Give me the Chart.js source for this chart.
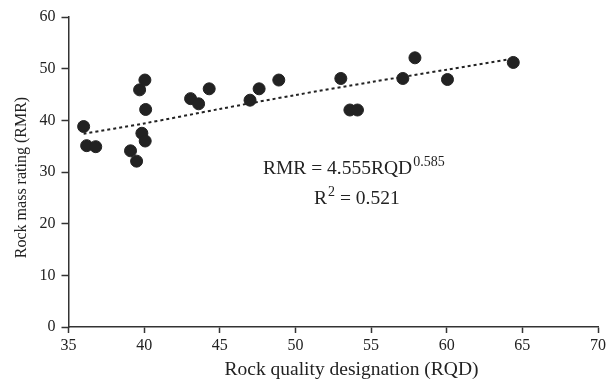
<!DOCTYPE html>
<html>
<head>
<meta charset="utf-8">
<script src="https://cdn.jsdelivr.net/npm/chart.js@4.4.0/dist/chart.umd.min.js"></script>
<style>
  html, body { margin: 0; padding: 0; background: #fff; }
  #wrap { width: 609px; height: 383px; position: relative; }
</style>
</head>
<body>
<div id="wrap"><canvas id="c"></canvas></div>
<script>
// measured RQD / RMR pairs
const rqd = [36.0, 36.2, 36.8, 39.1, 39.5, 39.7, 40.05, 40.1, 39.85, 40.07,
  43.07, 43.6, 44.3, 47.0, 47.6, 48.9, 53.0, 53.6, 54.1, 57.1, 57.9, 60.05, 64.4];
const rmr = [38.8, 35.1, 34.9, 34.1, 32.1, 45.9, 47.8, 42.1, 37.5, 36.0,
  44.2, 43.2, 46.1, 43.9, 46.1, 47.8, 48.1, 42.0, 42.0, 48.1, 52.1, 47.9, 51.2];

// fitted curve
const trendX = [36, 40, 45, 50, 55, 60, 64.3];
const trendY = [37.4, 39.4, 42.2, 44.9, 47.4, 49.8, 51.9];

const xTicks = [35, 40, 45, 50, 55, 60, 65, 70];
const yTicks = [0, 10, 20, 30, 40, 50, 60];

const xTitle = 'Rock quality designation (RQD)';
const yTitle = 'Rock mass rating (RMR)';

const FONT = "'Liberation Serif', 'Times New Roman', serif";
const AXIS = '#333';
const INK = '#222';

// axis titles sit a little off-centre in the original, so draw them by hand
const textLayer = {
  id: 'textLayer',
  afterDraw(chart) {
    const ctx = chart.ctx;
    ctx.save();
    ctx.fillStyle = INK;
    ctx.textBaseline = 'alphabetic';

    ctx.textAlign = 'center';
    ctx.font = `19.5px ${FONT}`;
    ctx.fillText(xTitle, 351.5, 375);

    ctx.save();
    ctx.translate(26, 177.5);
    ctx.rotate(-Math.PI / 2);
    ctx.font = `16px ${FONT}`;
    ctx.fillText(yTitle, 0, 0);
    ctx.restore();

    ctx.textAlign = 'left';
    ctx.font = `19.5px ${FONT}`;
    let x = 263;
    ctx.fillText('RMR = 4.555RQD', x, 174);
    x += ctx.measureText('RMR = 4.555RQD').width + 1;
    ctx.font = `14px ${FONT}`;
    ctx.fillText('0.585', x, 166);

    ctx.font = `19.5px ${FONT}`;
    x = 314;
    ctx.fillText('R', x, 204);
    x += ctx.measureText('R').width + 1;
    ctx.font = `14px ${FONT}`;
    ctx.fillText('2', x, 196);
    x += ctx.measureText('2').width;
    ctx.font = `19.5px ${FONT}`;
    ctx.fillText(' = 0.521', x, 204);
    ctx.restore();
  },
};

new Chart(document.getElementById('c'), {
  type: 'scatter',
  data: {
    datasets: [
      {
        label: 'data',
        data: rqd.map((x, i) => ({ x, y: rmr[i] })),
        backgroundColor: INK,
        borderColor: INK,
        pointRadius: 6,
        pointHoverRadius: 6,
        order: 0,
      },
      {
        label: 'fit',
        type: 'line',
        data: trendX.map((x, i) => ({ x, y: trendY[i] })),
        borderColor: INK,
        borderWidth: 2,
        borderDash: [3, 3],
        pointRadius: 0,
        fill: false,
        tension: 0.3,
        order: 1,
      },
    ],
  },
  options: {
    responsive: true,
    maintainAspectRatio: false,
    animation: false,
    layout: { padding: { top: 17, right: 10, left: 0, bottom: 0 } },
    plugins: {
      legend: { display: false },
      tooltip: { enabled: false },
    },
    scales: {
      x: {
        type: 'linear',
        min: 35,
        max: 70,
        afterBuildTicks: (s) => { s.ticks = xTicks.map((v) => ({ value: v })); },
        afterFit: (s) => { s.height = 56; },
        border: { display: true, color: AXIS, width: 1.5 },
        grid: { display: true, drawOnChartArea: false, drawTicks: true, tickLength: 6, color: AXIS, tickWidth: 1.5 },
        ticks: { color: INK, font: { family: FONT, size: 16 }, padding: 3, maxRotation: 0 },
      },
      y: {
        type: 'linear',
        min: 0,
        max: 60,
        afterBuildTicks: (s) => { s.ticks = yTicks.map((v) => ({ value: v })); },
        afterFit: (s) => { s.width = 68.5; },
        border: { display: true, color: AXIS, width: 1.5 },
        grid: { display: true, drawOnChartArea: false, drawTicks: true, tickLength: 7, color: AXIS, tickWidth: 1.5 },
        ticks: { color: INK, font: { family: FONT, size: 16 }, padding: 6 },
      },
    },
  },
  plugins: [textLayer],
});
</script>
</body>
</html>
